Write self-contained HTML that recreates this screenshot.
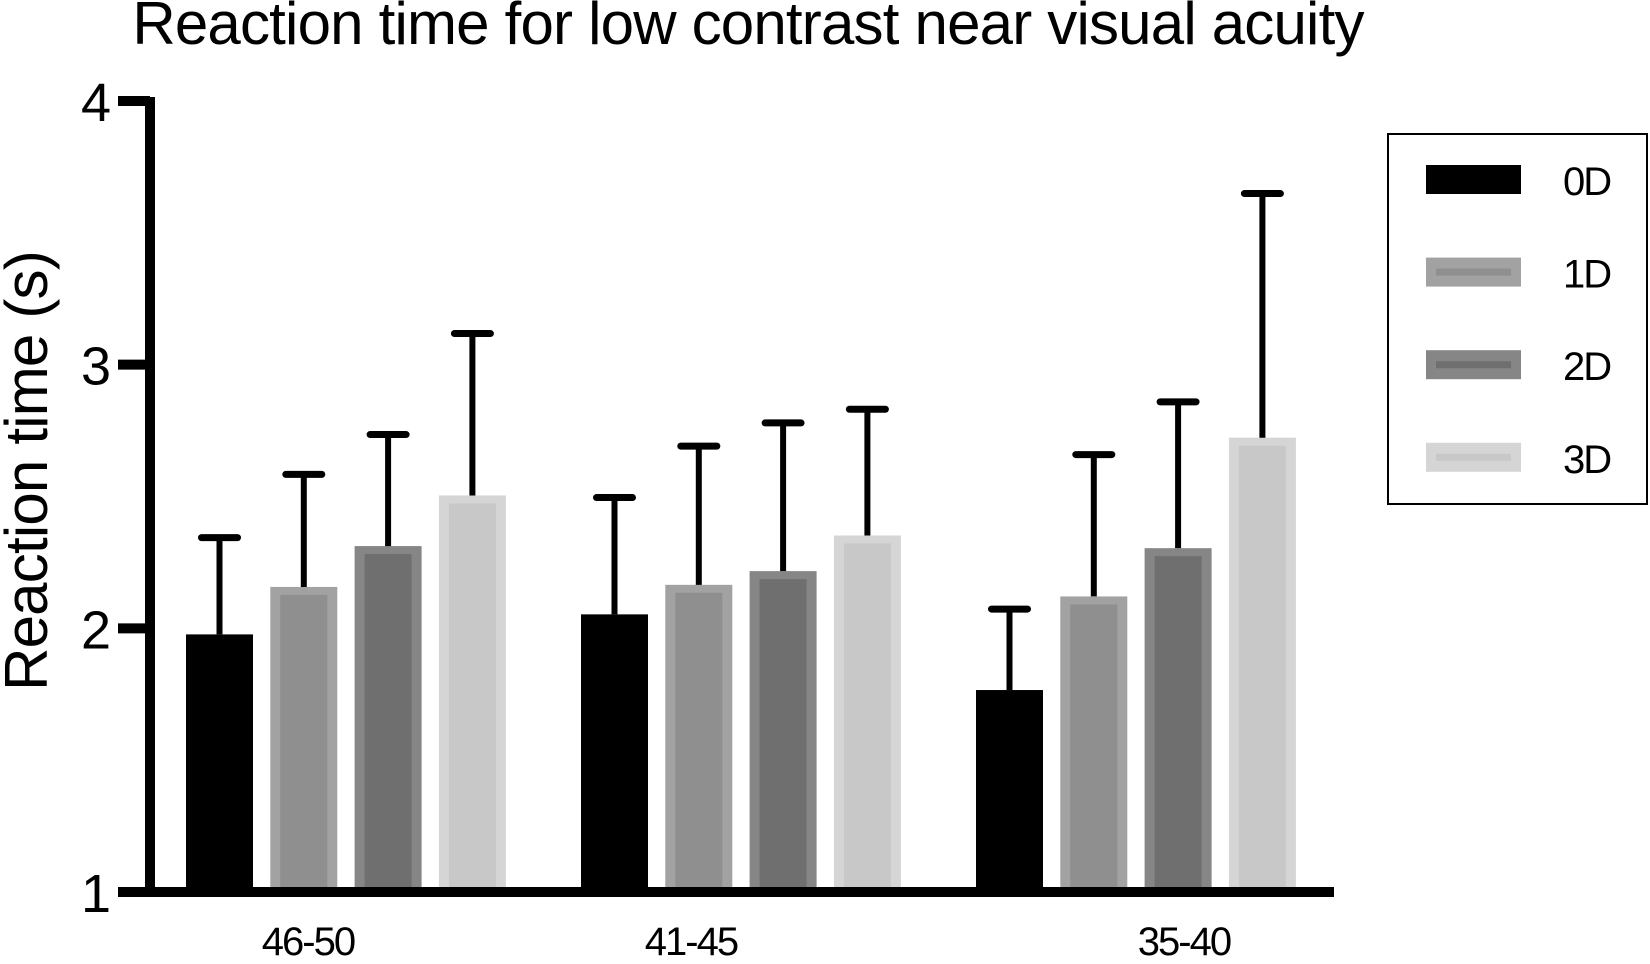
<!DOCTYPE html>
<html><head><meta charset="utf-8"><style>
html,body{margin:0;padding:0;background:#fff;}
svg text{font-family:"Liberation Sans",Arial,sans-serif;fill:#000;}
</style></head><body>
<svg id="chart" width="1650" height="959" viewBox="0 0 1650 959" xmlns="http://www.w3.org/2000/svg">
<text x="748" y="44" font-size="60" text-anchor="middle" letter-spacing="-0.8">Reaction time for low contrast near visual acuity</text>
<text transform="translate(47,471) rotate(-90)" font-size="60" text-anchor="middle" letter-spacing="-0.8">Reaction time (s)</text>
<g id="marks"></g>
<g id="axes"></g>
<g>
<rect x="1388" y="134" width="259" height="370" fill="none" stroke="#000" stroke-width="2"/>
<g id="legend-items"></g>
</g>
</svg>
<script>
const categories = ["46-50", "41-45", "35-40"];
const seriesNames = ["0D", "1D", "2D", "3D"];
const means0D = [1.977, 2.053, 1.766];
const means1D = [2.157, 2.165, 2.121];
const means2D = [2.312, 2.217, 2.304];
const means3D = [2.504, 2.352, 2.723];
const err0D = [2.344, 2.496, 2.073];
const err1D = [2.584, 2.691, 2.659];
const err2D = [2.735, 2.779, 2.859];
const err3D = [3.118, 2.831, 3.649];
const yTicks = [1, 2, 3, 4];

const means = [means0D, means1D, means2D, means3D];
const errs = [err0D, err1D, err2D, err3D];
const outer = ["#000", "#a2a2a2", "#868686", "#d5d5d5"];
const inner = ["#000", "#8f8f8f", "#6f6f6f", "#c8c8c8"];
const NS = "http://www.w3.org/2000/svg";
const y0 = 892, yMin = 1, yMax = 4, yTop = 101;
function y(v){ return y0 - (v - yMin) / (yMax - yMin) * (y0 - yTop); }
const groupStart = 186, groupStep = 395, barStep = 84.3, barW = 67;
function xBar(g, s){ return groupStart + g * groupStep + s * barStep; }
const labelOffset = [-38, -50, 48];
function mk(tag, attrs, parent){ const e = document.createElementNS(NS, tag); for (const k in attrs) e.setAttribute(k, attrs[k]); parent.appendChild(e); return e; }

const marks = document.getElementById("marks");
for (let g = 0; g < categories.length; g++) {
  for (let s = 0; s < seriesNames.length; s++) {
    const x = xBar(g, s), v = means[s][g], top = y(v);
    const r = mk("rect", {x: x, y: top, width: barW, height: y0 - top, fill: outer[s]}, marks);
    
    
    if (s > 0) {
      mk("rect", {x: x + 10, y: top + 8, width: barW - 20, height: y0 - top - 8, fill: inner[s]}, marks);
    }
    const cx = x + barW / 2, et = y(errs[s][g]);
    const ln = mk("line", {x1: cx, x2: cx, y1: top, y2: et, stroke: "#000", "stroke-width": 6}, marks);
    
    
    mk("line", {x1: cx - 18, x2: cx + 18, y1: et, y2: et, stroke: "#000", "stroke-width": 7, "stroke-linecap": "round"}, marks);
  }
  const lb = mk("text", {x: xBar(g, 0) + 1.5 * barStep + barW / 2 + labelOffset[g], y: 955, "font-size": 40, "text-anchor": "middle", "letter-spacing": "-2"}, marks);
  lb.textContent = categories[g];
  
  
}

const axes = document.getElementById("axes");
const ya = mk("line", {x1: 150, x2: 150, y1: yTop - 4, y2: y0 + 5, stroke: "#000", "stroke-width": 10}, axes);


const xa = mk("line", {x1: 118, x2: 1334, y1: y0, y2: y0, stroke: "#000", "stroke-width": 10}, axes);


yTicks.forEach(t => {
  mk("line", {x1: 118, x2: 150, y1: y(t), y2: y(t), stroke: "#000", "stroke-width": 10}, axes);
  const tl = mk("text", {x: 111, y: y(t) + 20, "font-size": 54, "text-anchor": "end"}, axes);
  tl.textContent = t;
  
  
});

const leg = document.getElementById("legend-items");
seriesNames.forEach((n, i) => {
  const yy = 165 + i * 92.6;
  const sw = mk("rect", {x: 1426, y: yy, width: 95, height: 29, fill: outer[i]}, leg);
  
  
  if (i > 0) mk("rect", {x: 1436, y: yy + 11, width: 75, height: 7, fill: inner[i]}, leg);
  const t = mk("text", {x: 1563, y: yy + 30, "font-size": 40, "letter-spacing": "-2"}, leg);
  t.textContent = n;
  
  
});
</script>
</body></html>
